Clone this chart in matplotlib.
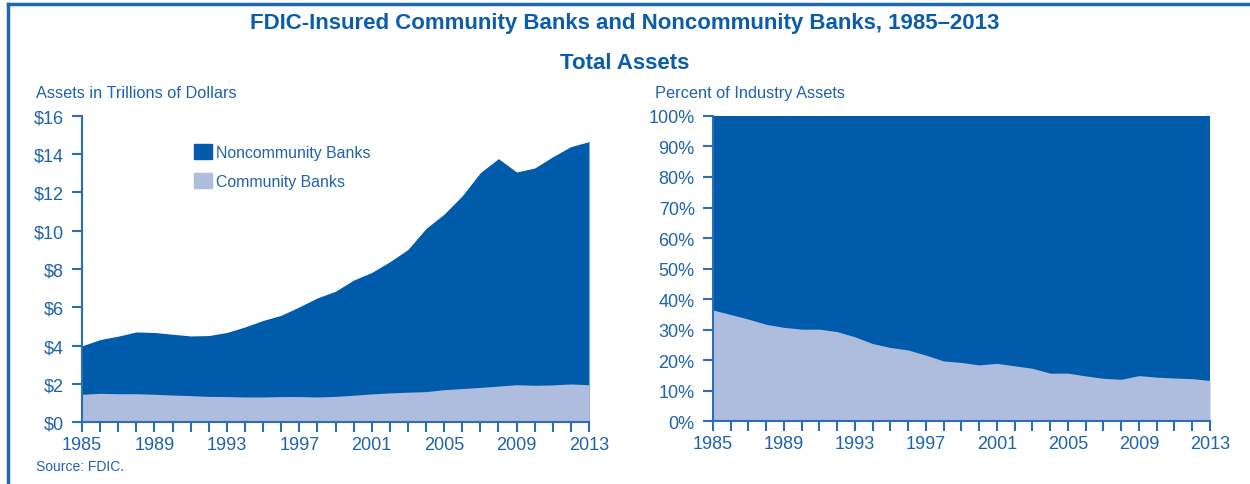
import matplotlib
matplotlib.use("Agg")
import matplotlib.pyplot as plt
from matplotlib.patches import Patch
from matplotlib.lines import Line2D
from matplotlib.ticker import MultipleLocator, FixedLocator

plt.rcParams['font.family'] = ['Liberation Sans', 'DejaVu Sans']

years = list(range(1985, 2014))

# total assets, trillions of dollars (top of dark area)
total_assets = [3.98, 4.31, 4.49, 4.71, 4.68, 4.59, 4.50, 4.52, 4.68, 4.97,
                5.31, 5.58, 6.02, 6.49, 6.84, 7.42, 7.82, 8.38, 9.02, 10.12,
                10.87, 11.83, 13.04, 13.77, 13.07, 13.28, 13.87, 14.40, 14.66]

community_assets = [1.45, 1.50, 1.48, 1.48, 1.45, 1.41, 1.38, 1.34, 1.33, 1.31,
                    1.31, 1.33, 1.33, 1.31, 1.34, 1.40, 1.47, 1.52, 1.56, 1.59,
                    1.69, 1.75, 1.81, 1.88, 1.95, 1.92, 1.94, 1.99, 1.95]

# community share of industry assets, percent
community_share = [36.5, 35.0, 33.5, 31.8, 30.8, 30.2, 30.2, 29.4, 27.7, 25.5,
                   24.2, 23.4, 21.7, 19.8, 19.3, 18.5, 19.0, 18.2, 17.4, 15.8,
                   15.8, 14.9, 14.1, 13.8, 15.0, 14.5, 14.2, 14.0, 13.4]

year_labels = [1985, 1989, 1993, 1997, 2001, 2005, 2009, 2013]
dollar_ticks = [0, 2, 4, 6, 8, 10, 12, 14, 16]
pct_ticks = list(range(0, 101, 10))

dark = '#005BAA'
light = '#AEBCDD'
txt = '#1F63AD'
axis_col = '#2C6DB5'

fig = plt.figure(figsize=(12.5, 4.85), dpi=100)

# frame lines (top and left)
fig.add_artist(Line2D([0.0065, 1.0], [0.99, 0.99], color='#1E68B2', lw=2.5,
                      transform=fig.transFigure))
fig.add_artist(Line2D([0.0065, 0.0065], [0.0, 0.99], color='#1E68B2', lw=2.5,
                      transform=fig.transFigure))

fig.text(0.5, 0.951, 'FDIC-Insured Community Banks and Noncommunity Banks, 1985\u20132013',
         ha='center', va='center', fontsize=16, fontweight='bold', color='#0B5CAA')
fig.text(0.5, 0.870, 'Total Assets', ha='center', va='center', fontsize=16,
         fontweight='bold', color='#0B5CAA')


def style_axes(ax):
    for s in ['top', 'right']:
        ax.spines[s].set_visible(False)
    for s in ['left', 'bottom']:
        ax.spines[s].set_color(axis_col)
        ax.spines[s].set_linewidth(1.5)
    ax.set_xlim(1985, 2013)
    ax.xaxis.set_major_locator(FixedLocator(year_labels))
    ax.xaxis.set_minor_locator(MultipleLocator(1))
    ax.tick_params(axis='both', which='both', color=axis_col, width=1.5, length=7,
                   labelcolor=txt, labelsize=13, direction='out')
    ax.tick_params(axis='x', which='both', pad=3)
    ax.tick_params(axis='y', pad=6)
    ax.set_facecolor('none')


# left panel: assets
ax1 = fig.add_axes([0.0656, 0.1278, 0.4056, 0.631])
ax1.fill_between(years, 0, total_assets, color=dark, lw=0)
ax1.fill_between(years, 0, community_assets, color=light, lw=0)
ax1.set_ylim(0, 16)
ax1.set_yticks(dollar_ticks)
ax1.set_yticklabels(['$%d' % v for v in dollar_ticks])
style_axes(ax1)
ax1.legend(handles=[Patch(color=dark, label='Noncommunity Banks'),
                    Patch(color=light, label='Community Banks')],
           loc='upper left', bbox_to_anchor=(0.209, 0.93), frameon=False,
           borderaxespad=0, fontsize=11.4, labelcolor=txt, handlelength=1.1,
           handleheight=1.1, handletextpad=0.3, labelspacing=0.85)
fig.text(0.029, 0.808, 'Assets in Trillions of Dollars', fontsize=11.8, color=txt,
         va='center', ha='left')

# right panel: share
ax2 = fig.add_axes([0.5702, 0.1290, 0.3978, 0.630])
ax2.fill_between(years, 0, 100, color=dark, lw=0)
ax2.fill_between(years, 0, community_share, color=light, lw=0)
ax2.set_ylim(0, 100)
ax2.set_yticks(pct_ticks)
ax2.set_yticklabels(['%d%%' % v for v in pct_ticks])
style_axes(ax2)
fig.text(0.524, 0.808, 'Percent of Industry Assets', fontsize=11.8, color=txt,
         va='center', ha='left')

fig.text(0.029, 0.037, 'Source: FDIC.', fontsize=10, color=txt, va='center', ha='left')

fig.savefig('out.png', dpi=100)
